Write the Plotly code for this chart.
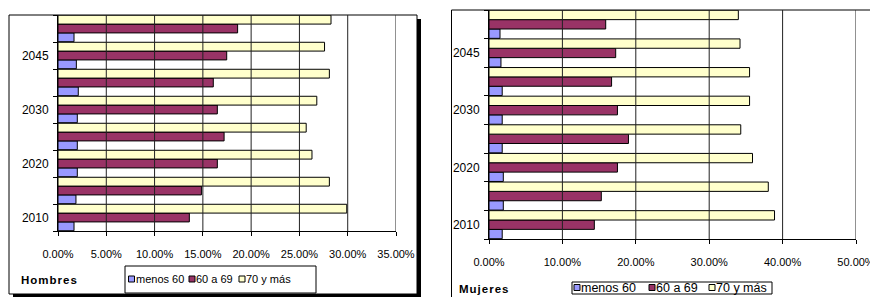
import plotly.graph_objects as go

# ---- data (bottom to top) ----
years = ["2010", "2015", "2020", "2025", "2030", "2040", "2045", "2050"]
year_labels = ["2010", "", "2020", "", "2030", "", "2045", ""]
series_names = ["menos 60", "60 a 69", "70 y más"]
series_colors = ["#9999FF", "#993366", "#FFFFCC"]

hombres_menos60 = [0.0166, 0.0186, 0.0200, 0.0200, 0.0200, 0.0210, 0.0190, 0.0166]
hombres_60a69 = [0.1360, 0.1485, 0.1650, 0.1720, 0.1650, 0.1608, 0.1747, 0.1860]
hombres_70mas = [0.2990, 0.2810, 0.2630, 0.2570, 0.2680, 0.2810, 0.2760, 0.2827]

mujeres_menos60 = [0.0180, 0.0195, 0.0195, 0.0180, 0.0180, 0.0180, 0.0163, 0.0150]
mujeres_60a69 = [0.1435, 0.1530, 0.1750, 0.1900, 0.1750, 0.1670, 0.1726, 0.1590]
mujeres_70mas = [0.3890, 0.3805, 0.3590, 0.3430, 0.3550, 0.3550, 0.3420, 0.3397]

# axis tick values
hombres_ticks = [0.00, 0.05, 0.10, 0.15, 0.20, 0.25, 0.30, 0.35]
mujeres_ticks = [0.00, 0.10, 0.20, 0.30, 0.40, 0.50]

W, H = 870, 297
def px(x):
    return x / W
def py(y):
    return 1 - y / H

FONT = "Arial, Liberation Sans, sans-serif"

fig = go.Figure()

panels = [
    ("x", "y", [hombres_menos60, hombres_60a69, hombres_70mas]),
    ("x2", "y2", [mujeres_menos60, mujeres_60a69, mujeres_70mas]),
]
for xa, ya, vals in panels:
    for name, color, v in zip(series_names, series_colors, vals):
        fig.add_trace(go.Bar(
            x=v, y=years, orientation="h", name=name,
            marker=dict(color=color, line=dict(color="black", width=1)),
            xaxis=xa, yaxis=ya, showlegend=False,
            hovertemplate="%{y}: %{x:.2%}<extra>" + name + "</extra>",
        ))

xcommon = dict(tickformat=".2%", showgrid=False,
               showline=True, linecolor="black", linewidth=1, ticks="outside",
               ticklen=4, tickcolor="black", zeroline=False,
               ticklabeloverflow="allow",
               tickfont=dict(family=FONT, size=11, color="black"))
ycommon = dict(type="category", categoryorder="array", categoryarray=years,
               range=[-0.5, 7.5], tickvals=years, ticktext=year_labels,
               tickson="boundaries", ticks="outside", ticklen=4, tickcolor="black",
               showline=True, linecolor="black", linewidth=1, showgrid=False,
               tickfont=dict(family=FONT, size=12, color="black"))

fig.update_layout(
    template="none",
    width=W, height=H, margin=dict(l=0, r=0, t=0, b=0, autoexpand=False),
    paper_bgcolor="white", plot_bgcolor="rgba(0,0,0,0)",
    barmode="group", bargap=0.02, bargroupgap=0,
    xaxis=dict(domain=[px(58), px(396)], anchor="y", range=[0, 0.35],
               tickvals=hombres_ticks, ticklabelstandoff=9, **xcommon),
    yaxis=dict(domain=[py(231), py(15)], anchor="x", ticklabelstandoff=6, **ycommon),
    xaxis2=dict(domain=[px(489), px(856)], anchor="y2", range=[0, 0.5],
                tickvals=mujeres_ticks, ticklabelstandoff=9, **xcommon),
    yaxis2=dict(domain=[py(239), py(10)], anchor="x2", ticklabelstandoff=6, **ycommon),
)

shapes = []
# vertical gridlines
for xr, yr, tv in (("x", "y domain", hombres_ticks), ("x2", "y2 domain", mujeres_ticks)):
    for t in tv[1:]:
        shapes.append(dict(type="line", xref=xr, yref=yr, layer="above",
                           x0=t, x1=t, y0=0, y1=1,
                           line=dict(color="#222222", width=1)))

# left chart frame with shadow
shapes.append(dict(type="rect", xref="paper", yref="paper", layer="below",
                   x0=px(417), x1=px(421), y0=py(297), y1=py(19),
                   fillcolor="black", line=dict(width=0)))
shapes.append(dict(type="rect", xref="paper", yref="paper", layer="below",
                   x0=px(13), x1=px(421), y0=py(297), y1=py(294),
                   fillcolor="black", line=dict(width=0)))
shapes.append(dict(type="rect", xref="paper", yref="paper", layer="below",
                   x0=px(9), x1=px(417), y0=py(294), y1=py(15),
                   line=dict(color="black", width=1)))
# right chart frame
shapes.append(dict(type="rect", xref="paper", yref="paper", layer="below",
                   x0=px(451.5), x1=px(900), y0=py(320), y1=py(10),
                   line=dict(color="black", width=1)))

annotations = []

def legend(box, items, size, sq, ymid):
    x0, x1, y0, y1 = box
    shapes.append(dict(type="rect", xref="paper", yref="paper",
                       x0=px(x0), x1=px(x1), y0=py(y1), y1=py(y0),
                       fillcolor="white", line=dict(color="black", width=1)))
    for (sx, tx), name, color in zip(items, series_names, series_colors):
        shapes.append(dict(type="rect", xref="paper", yref="paper",
                           x0=px(sx), x1=px(sx + sq), y0=py(ymid + sq / 2), y1=py(ymid - sq / 2),
                           fillcolor=color, line=dict(color="black", width=1)))
        annotations.append(dict(xref="paper", yref="paper", x=px(tx), y=py(ymid),
                                xanchor="left", yanchor="middle", showarrow=False,
                                text=name, font=dict(family=FONT, size=size, color="black")))

legend((125, 316, 266, 293), [(128.5, 134), (189, 194), (239, 244)], 11, 6, 279)
legend((572, 772, 282, 294), [(574, 579), (649, 654), (709, 714)], 12.5, 6, 287.5)

annotations.append(dict(xref="paper", yref="paper", x=px(19), y=py(280),
                        xanchor="left", yanchor="middle", showarrow=False,
                        text="<b><span style='letter-spacing:1px'>Hombres</span></b>",
                        font=dict(family=FONT, size=11.5, color="black")))
annotations.append(dict(xref="paper", yref="paper", x=px(457), y=py(289),
                        xanchor="left", yanchor="middle", showarrow=False,
                        text="<b><span style='letter-spacing:1px'>Mujeres</span></b>",
                        font=dict(family=FONT, size=11.5, color="black")))

fig.update_layout(shapes=shapes, annotations=annotations)
fig.write_html("out.html", config={"responsive": False, "displayModeBar": False},
               post_script="document.body.style.margin='0';document.body.style.overflow='hidden';")
